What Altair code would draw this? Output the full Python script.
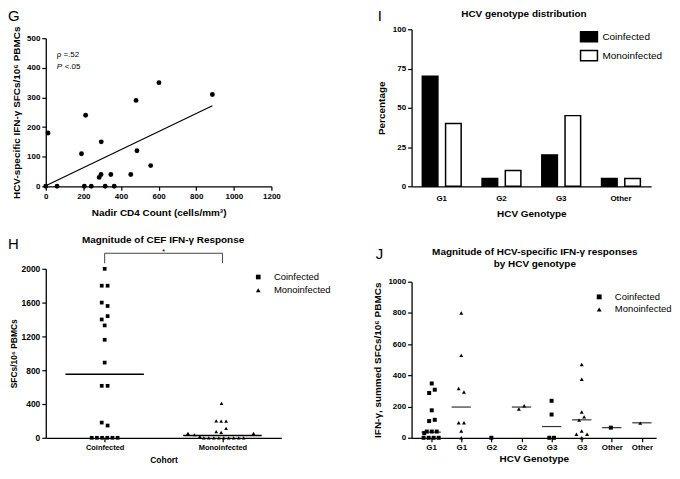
import altair as alt
import pandas as pd

FONT = "Liberation Sans"

# ---------------- data: panel G ----------------
g_cd4 = [0, 12, 60, 190, 205, 212, 242, 284, 294, 295, 316, 346, 364, 452, 480, 485, 558, 602, 886]
g_sfc = [0, 180, 0, 110, 0, 240, 0, 30, 40, 150, 0, 40, 0, 40, 290, 120, 70, 350, 310]
g_fit_cd4 = [0, 886]
g_fit_sfc = [2, 272]
g_xticks = [0, 200, 400, 600, 800, 1000, 1200]
g_yticks = [0, 100, 200, 300, 400, 500]

# ---------------- data: panel I ----------------
cohorts = ["Coinfected", "Monoinfected"]
i_genotypes = ["G1", "G2", "G3", "Other"]
i_coinfected = [70, 5, 20, 5]
i_monoinfected = [40, 10, 45, 5]
i_yticks = [0, 25, 50, 75, 100]

# ---------------- data: panel H ----------------
h_coin_sfc = [2000, 1800, 1800, 1600, 1560, 1440, 1400, 1330, 1160, 890, 615, 615, 180, 145,
              0, 0, 0, 0, 0, 0]
h_coin_jit = [0, -0.025, 0.025, -0.025, 0.025, 0.025, -0.025, 0, 0, 0, -0.025, 0.025, -0.025, 0.025,
              -0.11, -0.066, -0.022, 0.022, 0.066, 0.11]
h_mono_sfc = [408, 200, 197, 197, 112, 72, 65, 52, 36, 15, 0, 0, 0, 0, 0, 0, 0, 0, 0, 52]
h_mono_jit = [-0.008, -0.053, -0.011, 0.031, 0.031, -0.053, -0.011, -0.293, -0.238, -0.192,
              -0.158, -0.116, -0.073, -0.031, 0.011, 0.053, 0.095, 0.138, 0.18, 0.264]
h_medians = [752, 27]
h_yticks = [0, 400, 800, 1200, 1600, 2000]
h_bracket_top = 2184
h_bracket_foot = 2066

# ---------------- data: panel J ----------------
j_labels = ["G1", "G1", "G2", "G2", "G3", "G3", "Other", "Other"]
j_cohort = ["Coinfected", "Monoinfected"] * 4
j_values = [
    [348, 308, 287, 176, 115, 107, 40, 40, 40, 30, 0, 0, 0, 0],
    [800, 528, 316, 294, 96, 96, 44, 0],
    [0],
    [184, 205],
    [237, 149, 0, 0],
    [470, 375, 165, 134, 113, 44, 23, 23, 0],
    [65],
    [94],
]
j_jitter = [
    [0.02, 0.12, -0.066, 0.02, 0.12, -0.066, -0.145, 0.02, 0.185, -0.23, -0.25, -0.083, 0.083, 0.25],
    [0, 0, -0.086, 0.09, -0.086, 0.09, 0, 0],
    [0],
    [-0.086, 0.09],
    [0, 0, -0.076, 0.08],
    [0, 0, 0, 0.08, -0.086, 0, -0.175, 0.178, 0],
    [-0.033],
    [-0.056],
]
j_medians = [36, 197, None, 197, 72, 115, 65, 96]
j_yticks = [0, 200, 400, 600, 800, 1000]

BLACK = "black"
TOP = -20      # top line for panel letters / first-row titles (px above plot origin)
ROW1_H = 158   # plot height of the upper panels
ROW2_H = 170   # plot height of the lower panels


def note(text, x, y, size=10, weight="normal", align="left", baseline="top", line_height=None):
    kw = dict(align=align, baseline=baseline, font=FONT, fontSize=size, fontWeight=weight, color=BLACK)
    if line_height:
        kw["lineBreak"] = "\n"
        kw["lineHeight"] = line_height
    return alt.Chart(pd.DataFrame({"t": [text]})).mark_text(**kw).encode(
        text="t:N", x=alt.value(x), y=alt.value(y))


def qaxis(values, title, **kw):
    return alt.Axis(values=values, tickCount=len(values), title=title, format="d", **kw)


# ================= Panel G =================
g_df = pd.DataFrame({"cd4": g_cd4, "sfc": g_sfc})
g_fit = pd.DataFrame({"cd4": g_fit_cd4, "sfc": g_fit_sfc})
gx = alt.X("cd4:Q", scale=alt.Scale(domain=[0, 1200], nice=False, zero=False),
           axis=qaxis(g_xticks, "Nadir CD4 Count (cells/mm³)", titlePadding=7))
gy = alt.Y("sfc:Q", scale=alt.Scale(domain=[0, 500], nice=False, range=[ROW1_H, 9]),
           axis=qaxis(g_yticks, "HCV-specific IFN-γ SFCs/10⁶ PBMCs", titlePadding=5))
g_pts = alt.Chart(g_df).mark_circle(size=24, color=BLACK, opacity=1).encode(x=gx, y=gy)
g_line = alt.Chart(g_fit).mark_line(color=BLACK, strokeWidth=1.2).encode(x="cd4:Q", y="sfc:Q")
g_stat = pd.DataFrame({"cd4": [58, 58, 58], "sfc": [443, 402, 402], "t": ["ρ =.52", "P", "<.05"]})
g_txt1 = alt.Chart(g_stat.iloc[[0]]).mark_text(align="left", baseline="middle", font=FONT, fontSize=8,
                                               color=BLACK).encode(x="cd4:Q", y="sfc:Q", text="t:N")
g_txt2 = alt.Chart(g_stat.iloc[[1]]).mark_text(align="left", baseline="middle", font=FONT, fontSize=8,
                                               fontStyle="italic", color=BLACK).encode(x="cd4:Q", y="sfc:Q", text="t:N")
g_txt3 = alt.Chart(g_stat.iloc[[2]]).mark_text(align="left", baseline="middle", font=FONT, fontSize=8,
                                               dx=8, color=BLACK).encode(x="cd4:Q", y="sfc:Q", text="t:N")
panel_g = alt.layer(g_line, g_pts, g_txt1, g_txt2, g_txt3,
                    note("G", -38, TOP, size=15)).properties(width=227, height=ROW1_H)

# ================= Panel I =================
i_df = pd.DataFrame({
    "genotype": i_genotypes * 2,
    "icohort": [cohorts[0]] * len(i_genotypes) + [cohorts[1]] * len(i_genotypes),
    "pct": i_coinfected + i_monoinfected,
})
i_bars = alt.Chart(i_df).mark_bar(stroke=BLACK, strokeWidth=1.5).encode(
    x=alt.X("genotype:N", sort=i_genotypes,
            scale=alt.Scale(paddingInner=0.35, paddingOuter=0.18),
            axis=alt.Axis(title="HCV Genotype", labelAngle=0, ticks=False, labelPadding=8, titlePadding=6)),
    xOffset=alt.XOffset("icohort:N", sort=cohorts, scale=alt.Scale(paddingInner=0.33)),
    y=alt.Y("pct:Q", scale=alt.Scale(domain=[0, 100], nice=False),
            axis=qaxis(i_yticks, "Percentage", titlePadding=6)),
    fill=alt.Fill("icohort:N", sort=cohorts, scale=alt.Scale(domain=cohorts, range=["black", "white"]),
                  legend=alt.Legend(title=None, orient="none", legendX=169, legendY=-2,
                                    symbolType="M-1,-0.6L1,-0.6L1,0.6L-1,0.6Z", symbolSize=289,
                                    symbolStrokeColor=BLACK, symbolStrokeWidth=1.5,
                                    labelFontSize=10, labelOffset=4, rowPadding=1, padding=0)),
)
panel_i = alt.layer(
    i_bars,
    note("I", -34, TOP, size=15),
    note("HCV genotype distribution", 113, TOP, size=10, weight="bold", align="center"),
).properties(width=241, height=ROW1_H)

# ================= Panel H =================
h_df = pd.DataFrame({
    "pos": [1 + j for j in h_coin_jit] + [2 + j for j in h_mono_jit],
    "sfc": h_coin_sfc + h_mono_sfc,
    "hcohort": [cohorts[0]] * len(h_coin_sfc) + [cohorts[1]] * len(h_mono_sfc),
})
h_med = pd.DataFrame({"pos": [1, 2], "sfc": h_medians})
h_label_expr = "[''," + ",".join("'%s'" % c for c in cohorts) + "][datum.value]"
hx = alt.X("pos:Q", scale=alt.Scale(domain=[0.5, 2.5], nice=False, zero=False),
           axis=alt.Axis(values=[1, 2], tickCount=2, labelExpr=h_label_expr, title="Cohort",
                         labelFontSize=7.5, titleFontSize=8.5, titlePadding=4))
hy = alt.Y("sfc:Q", scale=alt.Scale(domain=[0, 2000], nice=False),
           axis=qaxis(h_yticks, "SFCs/10⁶ PBMCs", labelFontSize=8.5, titleFontSize=8.5, titlePadding=3))
h_pts = alt.Chart(h_df).mark_point(filled=True, size=14, opacity=1, color=BLACK).encode(
    x=hx, y=hy,
    shape=alt.Shape("hcohort:N", sort=cohorts,
                    scale=alt.Scale(domain=cohorts, range=["square", "triangle-up"]),
                    legend=alt.Legend(title=None, orient="none", legendX=209, legendY=3.5,
                                      symbolSize=22, symbolFillColor=BLACK, symbolStrokeWidth=0,
                                      labelFontSize=9.5, labelOffset=11, rowPadding=2.3, padding=0)),
)
h_rule = alt.Chart(h_med).transform_calculate(
    x1="datum.pos - 0.333", x2="datum.pos + 0.333").mark_rule(color=BLACK, strokeWidth=1.3).encode(
    x="x1:Q", x2="x2:Q", y="sfc:Q")
h_br = pd.DataFrame({"pos": [1, 2], "top": [h_bracket_top] * 2, "foot": [h_bracket_foot] * 2})
h_br_h = alt.Chart(h_br.iloc[[0]]).transform_calculate(p2="datum.pos + 1").mark_rule(
    color="#444", strokeWidth=1).encode(x="pos:Q", x2="p2:Q", y="top:Q")
h_br_v = alt.Chart(h_br).mark_rule(color="#444", strokeWidth=1).encode(x="pos:Q", y="foot:Q", y2="top:Q")
h_star = alt.Chart(pd.DataFrame({"pos": [1.5], "top": [h_bracket_top], "t": ["*"]})).mark_text(
    baseline="alphabetic", align="center", font=FONT, fontSize=8, dy=1, color=BLACK).encode(
    x="pos:Q", y="top:Q", text="t:N")
panel_h = alt.layer(
    h_rule, h_pts, h_br_h, h_br_v, h_star,
    note("H", -38, -32, size=15),
    note("Magnitude of CEF IFN-γ Response", 118, -29, size=10, weight="bold", align="center",
         baseline="middle"),
).properties(width=237, height=ROW2_H)

# ================= Panel J =================
j_rows = []
for k, (vals, jits) in enumerate(zip(j_values, j_jitter)):
    for v, jj in zip(vals, jits):
        j_rows.append({"pos": k + 1 + jj, "sfc": v, "jcohort": j_cohort[k]})
j_df = pd.DataFrame(j_rows)
j_med = pd.DataFrame({"pos": [k + 1 for k, m in enumerate(j_medians) if m is not None],
                      "sfc": [m for m in j_medians if m is not None]})
j_label_expr = "[''," + ",".join("'%s'" % c for c in j_labels) + "][datum.value]"
j_xticks = list(range(1, len(j_labels) + 1))
jx = alt.X("pos:Q", scale=alt.Scale(domain=[0.35, 8.47], nice=False, zero=False),
           axis=alt.Axis(values=j_xticks, tickCount=len(j_xticks), labelExpr=j_label_expr,
                         title="HCV Genotype", titlePadding=2))
jy = alt.Y("sfc:Q", scale=alt.Scale(domain=[0, 1000], nice=False, range=[ROW2_H, 13]),
           axis=qaxis(j_yticks, "IFN-γ, summed SFCs/10⁶ PBMCs", titlePadding=5))
j_pts = alt.Chart(j_df).mark_point(filled=True, size=16, opacity=1, color=BLACK).encode(
    x=jx, y=jy,
    shape=alt.Shape("jcohort:N", sort=cohorts,
                    scale=alt.Scale(domain=cohorts, range=["square", "triangle-up"]),
                    legend=alt.Legend(title=None, orient="none", legendX=184, legendY=23.5,
                                      symbolSize=24, symbolFillColor=BLACK, symbolStrokeWidth=0,
                                      labelFontSize=9.5, labelOffset=11, rowPadding=1.7, padding=0)),
)
j_rule = alt.Chart(j_med).transform_calculate(
    x1="datum.pos - 0.32", x2="datum.pos + 0.32").mark_rule(color="#333", strokeWidth=1.2).encode(
    x="x1:Q", x2="x2:Q", y="sfc:Q")
panel_j = alt.layer(
    j_rule, j_pts,
    note("J", -36, -22, size=15),
    note("Magnitude of HCV-specific IFN-γ responses\nby HCV genotype", 124, -22, size=10,
         weight="bold", align="center", line_height=12),
).properties(width=246, height=ROW2_H)

chart = alt.concat(
    panel_g, panel_i, panel_h, panel_j, columns=2,
    spacing={"row": 83, "column": 131}, bounds="flush",
).resolve_scale(
    x="independent", y="independent", shape="independent", fill="independent"
).properties(padding=0).configure(font=FONT).configure_axis(
    grid=False, domainColor=BLACK, tickColor=BLACK, labelColor=BLACK, titleColor=BLACK,
    labelFont=FONT, titleFont=FONT, labelFontWeight="bold", titleFontWeight="bold",
    labelFontSize=8, titleFontSize=10, tickSize=4, domainWidth=1.3, tickWidth=1.2, labelPadding=2,
    labelOverlap=False, labelFlush=False,
).configure_legend(labelFont=FONT, labelColor=BLACK).configure_view(stroke=None)

chart.save("out.html", embed_options={"renderer": "svg", "actions": False})
